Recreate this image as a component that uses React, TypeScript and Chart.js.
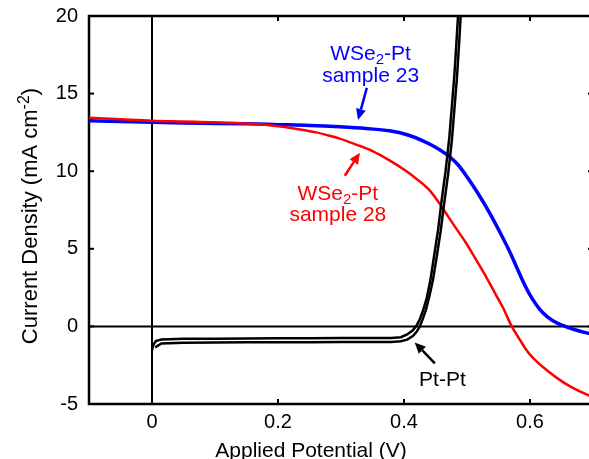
import React, { useEffect, useRef } from "react";
import { Chart, registerables } from "chart.js";

Chart.register(...registerables);

// ---- data ----
const xTicks = [0, 0.2, 0.4, 0.6];
const yTicks = [-5, 0, 5, 10, 15, 20];

const blueX = [-0.1, -0.05, 0, 0.05, 0.1, 0.15, 0.2, 0.25, 0.298, 0.34, 0.377, 0.405, 0.43, 0.45, 0.467, 0.485, 0.504, 0.52, 0.536, 0.557, 0.568, 0.579, 0.589, 0.599, 0.61, 0.62, 0.635, 0.652, 0.67, 0.693, 0.7];
const blueY = [13.25, 13.2, 13.15, 13.1, 13.08, 13.05, 13.0, 12.95, 12.86, 12.75, 12.6, 12.35, 11.96, 11.55, 11.1, 10.45, 9.4, 8.4, 7.3, 5.7, 4.8, 3.8, 2.9, 2.1, 1.4, 0.9, 0.4, 0.06, -0.2, -0.45, -0.5];

const redX = [-0.1, -0.05, 0, 0.05, 0.1, 0.155, 0.2, 0.218, 0.24, 0.261, 0.28, 0.298, 0.325, 0.35, 0.375, 0.404, 0.42, 0.441, 0.455, 0.467, 0.483, 0.499, 0.515, 0.531, 0.545, 0.557, 0.571, 0.583, 0.594, 0.604, 0.62, 0.642, 0.665, 0.693, 0.7];
const redY = [13.45, 13.35, 13.25, 13.2, 13.15, 13.05, 12.9, 12.8, 12.65, 12.5, 12.3, 12.1, 11.7, 11.3, 10.75, 10.0, 9.5, 8.75, 8.0, 7.27, 6.3, 5.34, 4.25, 3.15, 2.1, 1.22, 0.0, -0.8, -1.5, -2.0, -2.6, -3.3, -3.9, -4.44, -4.55];

const ptFwdX = [0, 0.002, 0.006, 0.015, 0.05, 0.1, 0.15, 0.2, 0.25, 0.3, 0.35, 0.38, 0.395, 0.405, 0.414, 0.42, 0.425, 0.43, 0.436, 0.442, 0.448, 0.454, 0.46, 0.466, 0.472, 0.476, 0.48, 0.484, 0.488];
const ptFwdY = [-1.55, -1.2, -0.95, -0.85, -0.8, -0.8, -0.78, -0.77, -0.76, -0.75, -0.75, -0.74, -0.7, -0.52, -0.25, 0.05, 0.45, 1.0, 1.8, 3.0, 4.6, 6.2, 8.2, 10.0, 12.2, 14.2, 16.2, 18.8, 21.5];

const ptRevX = [0.492, 0.488, 0.484, 0.48, 0.476, 0.47, 0.464, 0.458, 0.452, 0.446, 0.44, 0.435, 0.43, 0.425, 0.42, 0.414, 0.405, 0.395, 0.38, 0.35, 0.3, 0.25, 0.2, 0.15, 0.1, 0.05, 0.015, 0.005];
const ptRevY = [21.5, 18.6, 16.0, 14.0, 12.0, 9.8, 8.0, 6.1, 4.5, 3.0, 1.9, 1.1, 0.5, 0.0, -0.35, -0.62, -0.85, -0.95, -1.0, -1.0, -1.0, -1.02, -1.02, -1.02, -1.03, -1.05, -1.1, -1.35];

const BLUE = "rgb(0,0,255)";
const RED = "rgb(255,0,0)";
const FONT = "'Liberation Sans', Arial, Helvetica, sans-serif";

type Seg = { t: string; sub?: boolean; sup?: boolean };
type Note = { lines: Seg[][]; color: string; cx: number; baselines: number[]; from: [number, number]; to: [number, number] };

const notes: Note[] = [
  {
    lines: [[{ t: "WSe" }, { t: "2", sub: true }, { t: "-Pt" }], [{ t: "sample 23" }]],
    color: BLUE, cx: 0.347, baselines: [17.17, 15.76], from: [0.341, 15.37], to: [0.327, 13.3],
  },
  {
    lines: [[{ t: "WSe" }, { t: "2", sub: true }, { t: "-Pt" }], [{ t: "sample 28" }]],
    color: RED, cx: 0.295, baselines: [8.17, 6.82], from: [0.306, 9.71], to: [0.330, 11.19],
  },
  {
    lines: [[{ t: "Pt-Pt" }]],
    color: "#000", cx: 0.461, baselines: [-3.86], from: [0.449, -2.38], to: [0.417, -1.03],
  },
];

function segFont(s: Seg, base: number) {
  return `${s.sub || s.sup ? Math.round(base * 0.72) : base}px ${FONT}`;
}

function drawSegs(ctx: CanvasRenderingContext2D, segs: Seg[], x: number, y: number, base: number, center: boolean) {
  let w = 0;
  for (const s of segs) { ctx.font = segFont(s, base); w += ctx.measureText(s.t).width; }
  let cx = center ? x - w / 2 : x;
  ctx.textAlign = "left";
  ctx.textBaseline = "alphabetic";
  for (const s of segs) {
    ctx.font = segFont(s, base);
    const dy = s.sub ? base * 0.2 : s.sup ? -base * 0.38 : 0;
    ctx.fillText(s.t, cx, y + dy);
    cx += ctx.measureText(s.t).width;
  }
}

function arrow(ctx: CanvasRenderingContext2D, x1: number, y1: number, x2: number, y2: number, color: string) {
  const ang = Math.atan2(y2 - y1, x2 - x1);
  const hl = 11, hw = 5;
  const bx = x2 - hl * Math.cos(ang), by = y2 - hl * Math.sin(ang);
  ctx.strokeStyle = color; ctx.fillStyle = color; ctx.lineWidth = 2.5;
  ctx.beginPath(); ctx.moveTo(x1, y1); ctx.lineTo(bx, by); ctx.stroke();
  ctx.beginPath();
  ctx.moveTo(x2, y2);
  ctx.lineTo(bx + hw * Math.sin(ang), by - hw * Math.cos(ang));
  ctx.lineTo(bx - hw * Math.sin(ang), by + hw * Math.cos(ang));
  ctx.closePath(); ctx.fill();
}

const decor = {
  id: "decor",
  beforeDatasetsDraw(chart: any) {
    const { ctx, chartArea: a, scales } = chart;
    const xs = scales.x, ys = scales.y;
    const ln = (x1: number, y1: number, x2: number, y2: number) => { ctx.beginPath(); ctx.moveTo(x1, y1); ctx.lineTo(x2, y2); ctx.stroke(); };
    ctx.save();
    ctx.strokeStyle = "#000";
    ctx.lineWidth = 2;
    const y0 = ys.getPixelForValue(0), x0 = xs.getPixelForValue(0);
    ln(a.left, y0, a.right, y0);
    ln(x0, a.top, x0, a.bottom);
    for (const t of xTicks) {
      const p = xs.getPixelForValue(t);
      ln(p, a.bottom, p, a.bottom - 5);
      ln(p, a.top, p, a.top + 5);
    }
    for (const t of yTicks) {
      const p = ys.getPixelForValue(t);
      ln(a.left, p, a.left + 5, p);
      ln(a.right, p, a.right - 5, p);
    }
    ctx.lineWidth = 2.5;
    ctx.strokeRect(a.left, a.top, a.right - a.left, a.bottom - a.top);
    ctx.restore();
  },
  afterDraw(chart: any) {
    const { ctx, chartArea: a, scales } = chart;
    const xs = scales.x, ys = scales.y;
    ctx.save();
    for (const n of notes) {
      ctx.fillStyle = n.color;
      const cx = xs.getPixelForValue(n.cx);
      n.lines.forEach((segs, i) => drawSegs(ctx, segs, cx, ys.getPixelForValue(n.baselines[i]), 21, true));
      arrow(ctx, xs.getPixelForValue(n.from[0]), ys.getPixelForValue(n.from[1]), xs.getPixelForValue(n.to[0]), ys.getPixelForValue(n.to[1]), n.color);
    }
    // axis titles
    ctx.fillStyle = "#000";
    ctx.font = `21px ${FONT}`;
    ctx.textAlign = "center";
    ctx.textBaseline = "alphabetic";
    ctx.fillText("Applied Potential (V)", 311, 457);
    ctx.translate(37, (a.top + a.bottom) / 2 + 6);
    ctx.rotate(-Math.PI / 2);
    drawSegs(ctx, [{ t: "Current Density (mA cm" }, { t: "-2", sup: true }, { t: ")" }], 0, 0, 22, true);
    ctx.restore();
  },
};

const pts = (xs: number[], ys: number[]) => xs.map((x, i) => ({ x, y: ys[i] }));

export default function App() {
  const ref = useRef<HTMLCanvasElement>(null);
  useEffect(() => {
    if (!ref.current) return;
    const tickFont = { family: FONT, size: 20 };
    const chart = new Chart(ref.current, {
      type: "scatter",
      data: {
        datasets: [
          { data: pts(ptFwdX, ptFwdY), borderColor: "#000", borderWidth: 2.5, showLine: true, pointRadius: 0 },
          { data: pts(ptRevX, ptRevY), borderColor: "#000", borderWidth: 2.5, showLine: true, pointRadius: 0 },
          { data: pts(redX, redY), borderColor: RED, borderWidth: 2.5, showLine: true, pointRadius: 0, cubicInterpolationMode: "monotone" },
          { data: pts(blueX, blueY), borderColor: BLUE, borderWidth: 3.5, showLine: true, pointRadius: 0, cubicInterpolationMode: "monotone" },
        ],
      },
      options: {
        responsive: false,
        animation: false,
        layout: { padding: { top: 16, right: 7, left: 0, bottom: 0 } },
        plugins: { legend: { display: false }, tooltip: { enabled: false } },
        scales: {
          x: {
            type: "linear", min: -0.1, max: 0.7,
            border: { display: false },
            grid: { display: false, drawTicks: false },
            ticks: { font: tickFont, color: "#000", padding: 6, maxRotation: 0, callback: (v: any) => String(v) },
            afterBuildTicks: (s: any) => { s.ticks = xTicks.map((v) => ({ value: v })); },
            afterFit: (s: any) => { s.height = 55; s.paddingLeft = 0; s.paddingRight = 0; },
          },
          y: {
            type: "linear", min: -5, max: 20,
            border: { display: false },
            grid: { display: false, drawTicks: false },
            ticks: { font: tickFont, color: "#000", padding: 11, callback: (v: any) => String(v) },
            afterBuildTicks: (s: any) => { s.ticks = yTicks.map((v) => ({ value: v })); },
            afterFit: (s: any) => { s.width = 89; s.paddingTop = 0; s.paddingBottom = 0; },
          },
        },
      },
      plugins: [decor],
    });
    return () => chart.destroy();
  }, []);
  return (
    <div style={{ position: "fixed", left: 0, top: 0, width: 589, height: 459, overflow: "hidden", background: "#fff" }}>
      <canvas ref={ref} width={600} height={459} style={{ display: "block" }} />
    </div>
  );
}
